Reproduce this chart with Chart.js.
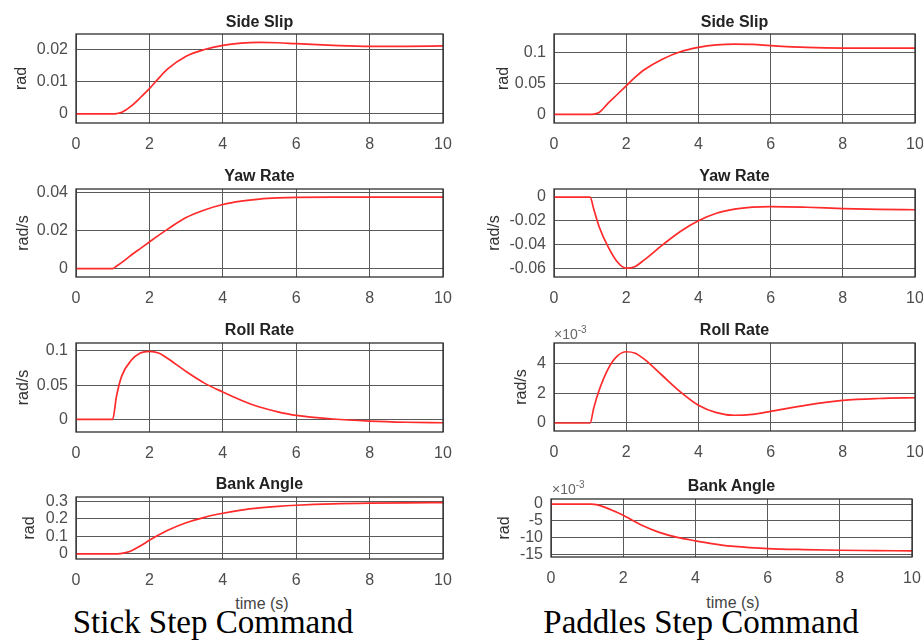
<!DOCTYPE html>
<html>
<head>
<meta charset="utf-8">
<script src="https://cdn.jsdelivr.net/npm/chart.js@4.4.0/dist/chart.umd.min.js"></script>
<style>
  html, body { margin: 0; padding: 0; background: #fff; width: 923px; height: 643px; overflow: hidden; }
  body { position: relative; font-family: "Liberation Sans", Arial, sans-serif; }
  canvas { position: absolute; }
  .lbl { position: absolute; transform: translate(-50%, -50%); white-space: nowrap; line-height: 1; }
  .ttl { font-size: 16px; font-weight: bold; color: #222; }
  .xlab { font-size: 16px; color: #444; }
  .exp { position: absolute; font-size: 14px; color: #666; line-height: 1; white-space: nowrap; }
  .exp sup { font-size: 10px; vertical-align: 6px; }
  .cap { font-family: "Liberation Serif", "Times New Roman", serif; font-size: 33px; color: #000; }
</style>
</head>
<body>
<script>
// Step responses, stick vs paddles
const timeS = [0, 0.5, 1, 1.1, 1.25, 1.5, 1.75, 2, 2.25, 2.5, 3, 3.5, 4, 4.5, 5, 5.5, 6, 7, 8, 9, 10];

const sideSlipStick = [0, 0, 0, 0.0001, 0.0005, 0.0024, 0.0050, 0.0078, 0.0110, 0.0139, 0.0178, 0.0199, 0.0212, 0.0219, 0.0221, 0.0220, 0.0217, 0.0212, 0.0209, 0.0209, 0.0210];
const sideSlipPaddle = [0, 0, 0, 0.0003, 0.003, 0.018, 0.032, 0.046, 0.060, 0.072, 0.089, 0.101, 0.108, 0.112, 0.1135, 0.113, 0.111, 0.108, 0.107, 0.107, 0.107];

const yawStick = [0, 0, 0, 0.0013, 0.0033, 0.0071, 0.0106, 0.0141, 0.0176, 0.0209, 0.0270, 0.0310, 0.0339, 0.0357, 0.0368, 0.0374, 0.0377, 0.0378, 0.0378, 0.0378, 0.0378];
const yawPaddle = [0, 0, 0, -0.010, -0.025, -0.042, -0.0545, -0.0600, -0.0585, -0.0530, -0.0405, -0.0290, -0.0200, -0.0137, -0.0102, -0.0085, -0.0080, -0.0086, -0.0097, -0.0104, -0.0107];

const rollStick = [0, 0, 0, 0.033, 0.064, 0.086, 0.097, 0.0995, 0.097, 0.089, 0.070, 0.053, 0.040, 0.028, 0.018, 0.011, 0.0058, 0.0005, -0.0025, -0.0042, -0.0050];
const rollPaddle = [0, 0, 0, 0.0010, 0.0022, 0.00365, 0.0045, 0.0048, 0.0047, 0.0043, 0.0032, 0.0021, 0.0012, 0.0007, 0.00052, 0.00058, 0.00078, 0.0012, 0.00152, 0.00165, 0.0017];

const bankStick = [0, 0, 0, 0.0005, 0.003, 0.017, 0.045, 0.078, 0.108, 0.135, 0.178, 0.209, 0.232, 0.250, 0.263, 0.272, 0.278, 0.286, 0.290, 0.292, 0.293];
const bankPaddle = [0, 0, 0, -0.00003, -0.0002, -0.0010, -0.0021, -0.0033, -0.0048, -0.0062, -0.0084, -0.0099, -0.0109, -0.0118, -0.0125, -0.0129, -0.0132, -0.0135, -0.0137, -0.0138, -0.0139];

const xTicks = [0, 2, 4, 6, 8, 10];

// Panel layout: plot box in page pixels, axis limits, y-axis width
const panels = [
    { title: 'Side Slip',  unit: 'rad',   values: sideSlipStick,  left: 76,  top: 34,  w: 367, h: 89, ymin: -0.0028, ymax: 0.0247, step: 0.01,  yw: 64 },
    { title: 'Side Slip',  unit: 'rad',   values: sideSlipPaddle, left: 554, top: 34,  w: 361, h: 89, ymin: -0.014,  ymax: 0.1297, step: 0.05,  yw: 60 },
    { title: 'Yaw Rate',   unit: 'rad/s', values: yawStick,       left: 76,  top: 189, w: 367, h: 88, ymin: -0.0044, ymax: 0.0421, step: 0.02,  yw: 62 },
    { title: 'Yaw Rate',   unit: 'rad/s', values: yawPaddle,      left: 554, top: 189, w: 361, h: 88, ymin: -0.0674, ymax: 0.0068, step: 0.02,  yw: 69 },
    { title: 'Roll Rate',  unit: 'rad/s', values: rollStick,      left: 76,  top: 343, w: 367, h: 89, ymin: -0.0185, ymax: 0.1117, step: 0.05,  yw: 62 },
    { title: 'Roll Rate',  unit: 'rad/s', values: rollPaddle,     left: 554, top: 343, w: 361, h: 88, ymin: -0.00054, ymax: 0.00539, step: 0.002, yw: 42, sci: true },
    { title: 'Bank Angle', unit: 'rad',   values: bankStick,      left: 76,  top: 497, w: 367, h: 62, ymin: -0.029,  ymax: 0.325,  step: 0.1,   yw: 56 },
    { title: 'Bank Angle', unit: 'rad',   values: bankPaddle,     left: 551, top: 499, w: 361, h: 58, ymin: -0.0157, ymax: 0.00149, step: 0.005, yw: 56, sci: true }
];

const PAD_T = 10, PAD_R = 20, X_H = 34;
const FONT = '"Liberation Sans", Arial, sans-serif';

// MATLAB-style closed box around the axes
const frameBox = {
    id: 'frameBox',
    afterDraw(chart) {
        const a = chart.chartArea;
        const ctx = chart.ctx;
        ctx.save();
        ctx.strokeStyle = '#2e2e2e';
        ctx.lineWidth = 1.3;
        ctx.strokeRect(a.left, a.top, a.right - a.left, a.bottom - a.top);
        ctx.restore();
    }
};

function addLabel(cls, html, x, y) {
    const d = document.createElement('div');
    d.className = cls;
    d.innerHTML = html;
    d.style.left = x + 'px';
    d.style.top = y + 'px';
    document.body.appendChild(d);
    return d;
}

function createPanel(p) {
    const c = document.createElement('canvas');
    const cw = p.yw + p.w + PAD_R;
    const ch = PAD_T + p.h + X_H;
    c.style.left = (p.left - p.yw) + 'px';
    c.style.top = (p.top - PAD_T) + 'px';
    c.style.width = cw + 'px';
    c.style.height = ch + 'px';
    c.width = cw;
    c.height = ch;
    document.body.appendChild(c);

    new Chart(c, {
        type: 'line',
        data: {
            datasets: [{
                data: timeS.map((t, i) => ({ x: t, y: p.values[i] })),
                borderColor: '#ff2a2a',
                borderWidth: 1.7,
                pointRadius: 0,
                cubicInterpolationMode: 'monotone',
                fill: false
            }]
        },
        options: {
            responsive: false,
            animation: false,
            events: [],
            layout: { autoPadding: false, padding: { left: 0, top: PAD_T, right: PAD_R, bottom: 0 } },
            plugins: { legend: { display: false }, tooltip: { enabled: false }, title: { display: false } },
            scales: {
                x: {
                    type: 'linear',
                    min: 0,
                    max: 10,
                    afterBuildTicks: s => { s.ticks = xTicks.map(v => ({ value: v })); },
                    afterFit: s => { s.height = X_H; s.paddingLeft = 0; s.paddingRight = 0; },
                    border: { display: false },
                    grid: { color: '#5a5a5a', lineWidth: 1, drawTicks: false },
                    ticks: { autoSkip: false, padding: 12, maxRotation: 0, color: '#4d4d4d', font: { family: FONT, size: 16 } }
                },
                y: {
                    min: p.ymin,
                    max: p.ymax,
                    afterFit: s => { s.width = p.yw; s.paddingTop = 0; s.paddingBottom = 0; },
                    border: { display: false },
                    grid: { color: '#5a5a5a', lineWidth: 1, drawTicks: false },
                    ticks: {
                        stepSize: p.step,
                        includeBounds: false,
                        autoSkip: false,
                        padding: 8,
                        color: '#4d4d4d',
                        font: { family: FONT, size: 16 },
                        callback: v => p.sci ? String(Math.round(v * 1000)) : String(parseFloat(v.toFixed(6)))
                    },
                    title: {
                        display: true,
                        text: p.unit,
                        color: '#333',
                        padding: { top: 0, bottom: 0 },
                        font: { family: FONT, size: 16 }
                    }
                }
            }
        },
        plugins: [frameBox]
    });
}

panels.forEach(createPanel);

// Panel titles
const titleY = [22, 22, 176, 176, 330, 330, 484, 486];
panels.forEach((p, i) => addLabel('lbl ttl', p.title, p.left + p.w / 2, titleY[i]));

// Exponent markers on the scaled axes
addLabel('exp', '&times;10<sup>-3</sup>', 554, 325);
addLabel('exp', '&times;10<sup>-3</sup>', 552, 480);

// Shared x-axis labels and captions
addLabel('lbl xlab', 'time (s)', 262, 604);
addLabel('lbl xlab', 'time (s)', 733, 603);
addLabel('lbl cap', 'Stick Step Command', 213, 622);
addLabel('lbl cap', 'Paddles Step Command', 701, 622);
</script>
</body>
</html>
